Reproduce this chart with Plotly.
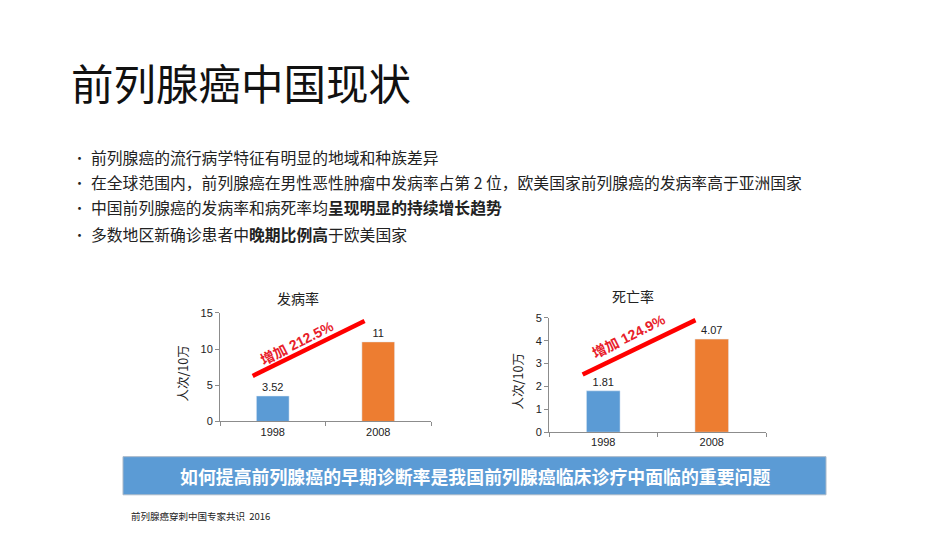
import plotly.graph_objects as go

W, H = 950, 535

years = ["1998", "2008"]
incidence = [3.52, 11]
mortality = [1.81, 4.07]
incidence_label = "增加 212.5%"
mortality_label = "增加 124.9%"
chart_titles = ["发病率", "死亡率"]
y_title = "人次/10万"
bar_colors = ["#5B9BD5", "#ED7D31"]

page_title = "前列腺癌中国现状"
bullets = [
    "前列腺癌的流行病学特征有明显的地域和种族差异",
    "在全球范围内，前列腺癌在男性恶性肿瘤中发病率占第 2 位，欧美国家前列腺癌的发病率高于亚洲国家",
    "中国前列腺癌的发病率和病死率均<b>呈现明显的持续增长趋势</b>",
    "多数地区新确诊患者中<b>晚期比例高</b>于欧美国家",
]
banner = "如何提高前列腺癌的早期诊断率是我国前列腺癌临床诊疗中面临的重要问题"
footnote = "前列腺癌穿刺中国专家共识  2016"

CJK = "Noto Sans CJK SC"
NUM = "Liberation Sans, Noto Sans CJK SC"


def px(x):
    return x / W


def py(y):
    return 1 - y / H


fig = go.Figure()

fig.add_trace(go.Bar(
    x=years, y=incidence, marker_color=bar_colors, width=0.31,
    text=[f"{v:g}" for v in incidence], textposition="outside",
    textfont=dict(size=11, color="#222", family=NUM), cliponaxis=False,
    xaxis="x", yaxis="y", showlegend=False))
fig.add_trace(go.Bar(
    x=years, y=mortality, marker_color=bar_colors, width=0.31,
    text=[f"{v:g}" for v in mortality], textposition="outside",
    textfont=dict(size=11, color="#222", family=NUM), cliponaxis=False,
    xaxis="x2", yaxis="y2", showlegend=False))

axis_common = dict(showline=True, linecolor="#8c8c8c", linewidth=1,
                   ticks="outside", tickcolor="#8c8c8c", ticklen=4,
                   tickfont=dict(size=11, color="#222", family=NUM),
                   showgrid=False, zeroline=False, fixedrange=True)

fig.update_layout(
    width=W, height=H, margin=dict(l=0, r=0, t=0, b=0),
    paper_bgcolor="white", plot_bgcolor="white",
    font=dict(family=CJK, color="#222"),
    xaxis=dict(domain=[px(220), px(431)], anchor="y", tickson="boundaries",
               range=[-0.5, 1.5], **axis_common),
    yaxis=dict(domain=[py(425), py(314)], anchor="x", range=[0, 15],
               tickvals=[0, 5, 10, 15], **axis_common),
    xaxis2=dict(domain=[px(549), px(766)], anchor="y2", tickson="boundaries",
                range=[-0.5, 1.5], **axis_common),
    yaxis2=dict(domain=[py(436), py(319)], anchor="x2", range=[0, 5],
                tickvals=[0, 1, 2, 3, 4, 5], **axis_common),
    bargap=0.69,
)

shapes = []
annotations = []


def note(x, y, text, size, color="#222", xanchor="center", angle=0, family=None):
    f = dict(size=size, color=color)
    if family:
        f["family"] = family
    annotations.append(dict(xref="paper", yref="paper", x=px(x), y=py(y), text=text,
                            xanchor=xanchor, yanchor="middle", textangle=angle,
                            showarrow=False, font=f))


# red trend lines
shapes.append(dict(type="line", xref="x", yref="y", x0=-0.19, y0=6.3, x1=0.87, y1=13.9,
                   line=dict(color="#FF0000", width=4.5)))
shapes.append(dict(type="line", xref="x2", yref="y2", x0=-0.19, y0=2.52, x1=0.85, y1=4.9,
                   line=dict(color="#FF0000", width=4.5)))
annotations.append(dict(xref="x", yref="y", x=0.23, y=10.9, text=f"<b>{incidence_label}</b>",
                        textangle=-27, showarrow=False, xanchor="center", yanchor="middle",
                        font=dict(size=14, color="#E8202A", family=NUM)))
annotations.append(dict(xref="x2", yref="y2", x=0.24, y=4.2, text=f"<b>{mortality_label}</b>",
                        textangle=-27, showarrow=False, xanchor="center", yanchor="middle",
                        font=dict(size=14, color="#E8202A", family=NUM)))

# chart titles
note(298, 299, chart_titles[0], 14)
note(633, 297, chart_titles[1], 14)
# y titles
note(183, 376, y_title, 12.5, angle=-90)
note(517, 384, y_title, 12.5, angle=-90)

# page title
note(69, 77, page_title, 42.5, color="#111", xanchor="left")

# bullets
bullet_y = [154.5, 180.5, 206.5, 233.5]
for txt, yy in zip(bullets, bullet_y):
    note(71, yy, "•", 13, xanchor="left")
    note(89, yy, txt, 15.8, xanchor="left")

# banner
shapes.append(dict(type="rect", xref="paper", yref="paper", x0=px(123), x1=px(826),
                   y0=py(500), y1=py(461), fillcolor="#5B9BD5",
                   line=dict(color="#A9B8C8", width=1), layer="below"))
note(475, 481, f"<b>{banner}</b>", 17.9, color="white")

# footnote
note(129, 522, footnote, 9.5, xanchor="left")

fig.update_layout(shapes=shapes, annotations=annotations)

fig.write_html("out.html")
